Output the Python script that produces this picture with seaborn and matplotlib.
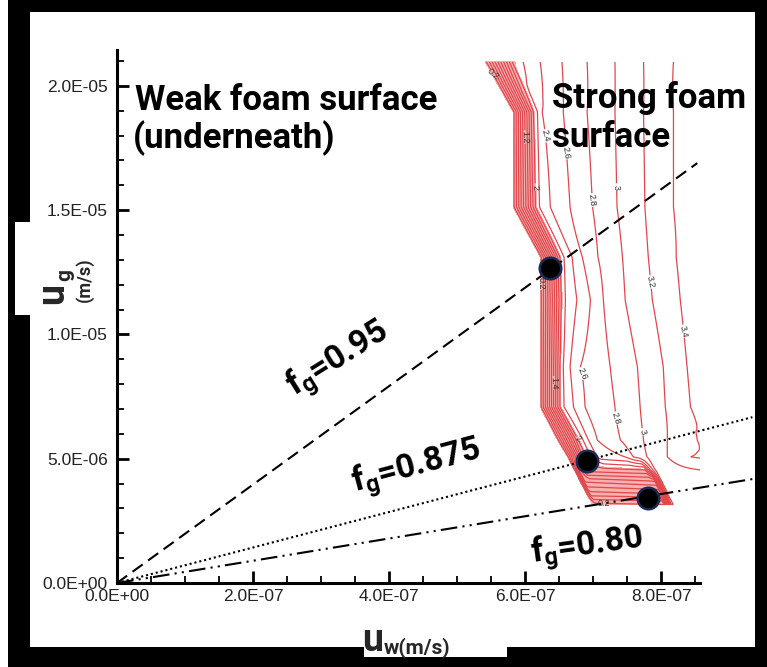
import numpy as np
import pandas as pd
import matplotlib
matplotlib.use("Agg")
import matplotlib.pyplot as plt
import seaborn as sns
from matplotlib.patches import Rectangle
from matplotlib.ticker import MultipleLocator, FuncFormatter

E7, E6 = 1e-7, 1e-6   # uw em 1e-7 m/s, ug em 1e-6 m/s

# retas de fg constante: partem da origem, terminam na borda direita
rotulos_fg = ["0.95", "0.875", "0.80"]
fim_uw = [8.53, 9.34, 9.34]
fim_ug = [16.89, 6.67, 4.18]

# pontos de intersecao com a transicao
ponto_uw = [6.37, 6.91, 7.81]
ponto_ug = [12.67, 4.91, 3.42]

# contornos (regime de espuma forte): perfis lidos em varias alturas ug
# o primeiro uw de cada linha e a borda da regiao
perfil_ug = [20.96, 18.95, 15.12, 13.11, 11.38, 8.69, 7.08, 5.75, 5.07, 4.55, 4.06, 3.58, 3.14]
perfil_uw = [
    [5.41, 5.81, 5.97, 6.22, 6.54, 6.91, 7.32, 7.74, 8.18, 8.574],
    [5.82, 6.12, 6.18, 6.25, 6.56, 6.91, 7.32, 7.74, 8.18, 8.574],
    [5.82, 6.15, 6.21, 6.37, 6.66, 6.99, 7.35, 7.76, 8.18, 8.574],
    [6.22, 6.51, 6.57, 6.69, 6.84, 7.07, 7.43, 7.81, 8.22, 8.574],
    [6.22, 6.53, 6.59, 6.76, 6.96, 7.15, 7.47, 7.87, 8.28, 8.574],
    [6.22, 6.51, 6.56, 6.66, 6.81, 7.25, 7.65, 8.03, 8.38, 8.574],
    [6.22, 6.51, 6.57, 6.71, 6.88, 7.32, 7.69, 8.06, 8.43, 8.574],
    [6.47, 6.78, 6.85, 6.93, 7.06, 7.40, 7.74, 8.09, 8.53, 8.574],
    [6.62, 6.88, 6.96, 7.10, 7.47, 7.59, 7.79, 8.09, 8.43, 8.574],
    [6.72, 6.79, 6.88, 7.76, 7.84, 7.91, 8.22, 8.574],
    [6.81, 6.88, 7.91, 8.01, 8.574],
    [6.90, 6.96, 7.99, 8.09, 8.574],
    [6.99, 8.04, 8.16, 8.574],
]
perfil_z = [
    [0.1, 2.0, 2.2, 2.4, 2.6, 2.8, 3.0, 3.2, 3.4, 3.6],
    [0.1, 2.0, 2.2, 2.4, 2.6, 2.8, 3.0, 3.2, 3.4, 3.6],
    [0.1, 2.0, 2.2, 2.4, 2.6, 2.8, 3.0, 3.2, 3.4, 3.6],
    [0.1, 2.0, 2.2, 2.4, 2.6, 2.8, 3.0, 3.2, 3.4, 3.55],
    [0.1, 2.0, 2.2, 2.4, 2.6, 2.8, 3.0, 3.2, 3.4, 3.55],
    [0.1, 2.0, 2.2, 2.4, 2.6, 2.8, 3.0, 3.2, 3.4, 3.5],
    [0.1, 2.0, 2.2, 2.4, 2.6, 2.8, 3.0, 3.2, 3.4, 3.45],
    [0.1, 2.0, 2.2, 2.4, 2.6, 2.8, 3.0, 3.2, 3.4, 3.42],
    [0.1, 2.0, 2.2, 2.5, 2.6, 2.8, 3.0, 3.2, 3.4, 3.42],
    [0.1, 1.2, 1.9, 2.0, 2.6, 3.0, 3.15, 3.2],
    [0.1, 1.2, 1.35, 3.0, 3.12],
    [0.1, 0.7, 0.78, 3.0, 3.1],
    [0.1, 0.18, 3.0, 3.1],
]
niveis = [0.2, 0.4, 0.6, 0.8, 1.0, 1.2, 1.4, 1.6, 1.8, 2.0, 2.2, 2.4, 2.6, 2.8, 3.0, 3.2, 3.4]

# posicoes dos rotulos dos contornos
rotulo_uw = [5.49, 6.00, 6.15, 6.26, 6.59, 6.99, 7.35, 7.81, 8.28, 6.41, 6.81, 7.29, 7.69, 7.15, 6.19, 6.78]
rotulo_ug = [20.2, 17.94, 15.93, 17.94, 17.30, 15.41, 15.93, 12.07, 10.06, 8.05, 8.37, 6.56, 6.03, 3.22, 12.07, 5.87]

W, H = 767, 667
C_LINHA = "#e2474c"
C_BANDA = "#f5b2b0"

sns.set_style("ticks")
plt.rcParams['font.family'] = ['Liberation Sans', 'DejaVu Sans']
plt.rcParams['mathtext.fontset'] = 'custom'
plt.rcParams['mathtext.rm'] = 'Roboto:bold'
plt.rcParams['mathtext.it'] = 'Roboto:bold'
plt.rcParams['mathtext.bf'] = 'Roboto:bold'
plt.rcParams.update({
    'axes.axisbelow': False,
    'xtick.direction': 'in', 'ytick.direction': 'in',
    'xtick.bottom': True, 'ytick.left': True,
    'xtick.color': 'black', 'ytick.color': 'black',
    'xtick.labelcolor': '#222222', 'ytick.labelcolor': '#222222',
    'xtick.major.size': 8.5, 'ytick.major.size': 8.5,
    'xtick.major.width': 2.0, 'ytick.major.width': 2.0,
    'xtick.minor.size': 5, 'ytick.minor.size': 5,
    'xtick.minor.width': 1.3, 'ytick.minor.width': 1.3,
    'xtick.labelsize': 12.5, 'ytick.labelsize': 12.5,
    'xtick.major.pad': 4, 'ytick.major.pad': 6.5,
})
FONTE = ['Roboto', 'DejaVu Sans']


def fx(px):
    return px / W


def fy(py):
    return 1 - py / H


fig = plt.figure(figsize=(W / 100, H / 100), dpi=100, facecolor="white")

# moldura preta e painel branco
for x0, y0, x1, y1, cor in [(8, 0, 767, 667, "black"), (30, 12, 755, 647, "white"),
                             (15, 222, 31, 315, "white"), (364, 640, 507, 657, "white")]:
    fig.patches.append(Rectangle((fx(x0), fy(y1)), fx(x1) - fx(x0), fy(y0) - fy(y1),
                                 transform=fig.transFigure, color=cor, zorder=-10, lw=0))

ax = fig.add_axes([fx(117), fy(583), fx(700) - fx(117), fy(50) - fy(583)])
ax.set_facecolor("none")

# campo dos contornos
ordem = np.argsort(perfil_ug)
ug_l = np.array(perfil_ug)[ordem]
borda = np.array([perfil_uw[i][0] for i in ordem])
xg = np.linspace(5.3, 8.574, 500)
yg = np.linspace(ug_l[0], ug_l[-1], 700)
Xg, Yg = np.meshgrid(xg, yg)
S = Xg - np.interp(Yg, ug_l, borda)
P = np.stack([np.interp(S, np.array(perfil_uw[i]) - perfil_uw[i][0], perfil_z[i]) for i in ordem])
k = np.clip(np.searchsorted(ug_l, Yg) - 1, 0, len(ug_l) - 2)
t = (Yg - ug_l[k]) / (ug_l[k + 1] - ug_l[k])
iy, ix = np.indices(Yg.shape)
Z = (1 - t) * P[k, iy, ix] + t * P[k + 1, iy, ix]
Z = np.where(S < 0, np.nan, Z)

ax.contourf(Xg * E7, Yg * E6, Z, levels=[0.0, 2.05], colors=[C_BANDA], zorder=1)
cs = ax.contour(Xg * E7, Yg * E6, Z, levels=niveis, colors=C_LINHA, linewidths=0.9, zorder=2)
ax.clabel(cs, fmt="%g", fontsize=6.5, colors="#333333", inline=True, inline_spacing=2,
          manual=list(zip(np.array(rotulo_uw) * E7, np.array(rotulo_ug) * E6)))

# retas de fg
estilos = [(0, (6, 3.2)), (0, (1, 1.4)), (0, (8, 2.5, 1, 2.5, 1, 2.5))]
for i, rot in enumerate(rotulos_fg):
    df = pd.DataFrame({"uw": [0, fim_uw[i] * E7], "ug": [0, fim_ug[i] * E6]})
    sns.lineplot(data=df, x="uw", y="ug", ax=ax, color="black", lw=1.5,
                 linestyle=estilos[i], clip_on=False, zorder=3)

pts = pd.DataFrame({"uw": np.array(ponto_uw) * E7, "ug": np.array(ponto_ug) * E6})
sns.scatterplot(data=pts, x="uw", y="ug", ax=ax, s=240, color="black",
                edgecolor="#1c2a55", linewidth=1.8, zorder=5, clip_on=False)

ax.set_xlim(0, 8.57e-7)
ax.set_ylim(0, 2.144e-5)
ax.xaxis.set_major_locator(MultipleLocator(2e-7))
ax.xaxis.set_minor_locator(MultipleLocator(5e-8))
ax.yaxis.set_major_locator(MultipleLocator(5e-6))
ax.yaxis.set_minor_locator(MultipleLocator(1e-6))
fmt = FuncFormatter(lambda v, p: f"{v:.1E}")
ax.xaxis.set_major_formatter(fmt)
ax.yaxis.set_major_formatter(fmt)
ax.set_xlabel("")
ax.set_ylabel("")
for lado in ["top", "right"]:
    ax.spines[lado].set_visible(False)
for lado in ["left", "bottom"]:
    ax.spines[lado].set_linewidth(2.2)
    ax.spines[lado].set_color("black")
for tk in ax.xaxis.get_major_ticks() + ax.yaxis.get_major_ticks() + \
        ax.xaxis.get_minor_ticks() + ax.yaxis.get_minor_ticks():
    tk.tick1line.set_visible(True)
    tk.tick1line.set_zorder(7)

# textos
kw = dict(family=FONTE, weight="bold", color="black", fontsize=25)
fig.text(fx(135), fy(110), "Weak foam surface", ha="left", va="baseline", **kw)
fig.text(fx(133), fy(148), "(underneath)", ha="left", va="baseline", **kw)
fig.text(fx(552), fy(108), "Strong foam", ha="left", va="baseline", **kw)
fig.text(fx(552), fy(147), "surface", ha="left", va="baseline", **kw)

kw["fontsize"] = 24
for (cx, cy, ang), rot in zip([(338, 360, 32), (417, 467, 15), (587, 547, 8)], rotulos_fg):
    fig.text(fx(cx), fy(cy), r"$\mathrm{f_g}$=" + rot, ha="center", va="center",
             rotation=ang, **kw)

# rotulos dos eixos
fig.text(fx(362), fy(651), "u", ha="left", va="baseline", family=FONTE, weight="bold", fontsize=27)
fig.text(fx(384), fy(653), "w(m/s)", ha="left", va="baseline", family=FONTE, weight="bold", fontsize=15)
fig.text(fx(63), fy(304), "u", rotation=90, rotation_mode="anchor", ha="left", va="baseline",
         family=FONTE, weight="bold", fontsize=27)
fig.text(fx(70), fy(281), "g", rotation=90, rotation_mode="anchor", ha="left", va="baseline",
         family=FONTE, weight="bold", fontsize=15)
fig.text(fx(90), fy(302), "(m/s)", rotation=90, rotation_mode="anchor", ha="left", va="baseline",
         family=FONTE, weight="bold", fontsize=13)

fig.savefig("out.png", dpi=100, facecolor=fig.get_facecolor())
